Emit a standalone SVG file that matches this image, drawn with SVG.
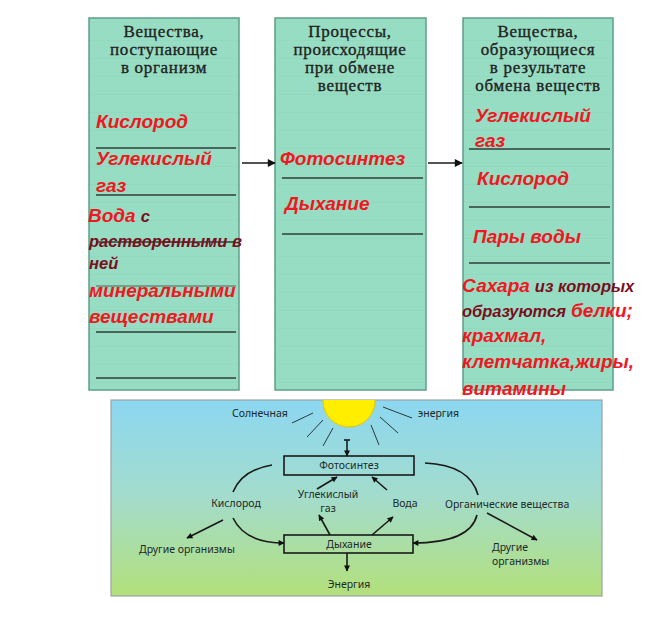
<svg xmlns="http://www.w3.org/2000/svg" width="659" height="628" viewBox="0 0 659 628">
<defs>
<style>
.col{fill:#97ddc3;stroke:#5e9e89;stroke-width:1.5}
.hd{font-family:"Liberation Serif",serif;font-size:17px;letter-spacing:0.7px;fill:#222;text-anchor:middle;stroke:#222;stroke-width:0.35}
.red{font-family:"Liberation Sans",Arial,sans-serif;font-style:italic;font-weight:bold;font-size:19px;fill:#ee1822}
.dk{font-family:"Liberation Sans",Arial,sans-serif;font-style:italic;font-weight:bold;font-size:16.5px;fill:#7a0f1e}
.sep{stroke:#2e3e38;stroke-width:1.5}
.rule{stroke:#8bd2b7;stroke-width:0.8}
.bt{font-family:"Noto Sans",sans-serif;font-size:10.5px;fill:#1e2a2a}
.ln{stroke:#1a1a1a;stroke-width:1.6;fill:none}
.ray{stroke:#2a3a3a;stroke-width:1}
.box{fill:none;stroke:#1a1a1a;stroke-width:1.6}
</style>
<marker id="ah" viewBox="0 0 10 10" refX="9" refY="5" markerWidth="10" markerHeight="8" markerUnits="userSpaceOnUse" orient="auto"><path d="M0,0 L10,5 L0,10 z" fill="#111"/></marker>
<marker id="sa" viewBox="0 0 10 10" refX="9" refY="5" markerWidth="7" markerHeight="6" markerUnits="userSpaceOnUse" orient="auto"><path d="M0,0 L10,5 L0,10 z" fill="#111"/></marker>
<pattern id="rl" x="0" y="4" width="10" height="18" patternUnits="userSpaceOnUse"><line x1="0" y1="0" x2="10" y2="0" class="rule"/></pattern>
<linearGradient id="sky" x1="0" y1="0" x2="0" y2="1"><stop offset="0" stop-color="#8cd7f1"/><stop offset="0.5" stop-color="#a3dccb"/><stop offset="1" stop-color="#b3e07a"/></linearGradient>
<clipPath id="cp"><rect x="111" y="400" width="491" height="196"/></clipPath>
</defs>
<rect width="659" height="628" fill="#ffffff"/>

<g id="col-input">
<rect class="col" x="89" y="18" width="150" height="372"/>
<rect x="90" y="19" width="148" height="370" fill="url(#rl)"/>
<text class="hd" x="164" y="37">Вещества,</text>
<text class="hd" x="164" y="55">поступающие</text>
<text class="hd" x="164" y="73">в организм</text>
<text class="red" x="96" y="128">Кислород</text>
<line class="sep" x1="96" y1="148" x2="236" y2="148"/>
<text class="red" x="96" y="165">Углекислый</text>
<text class="red" x="96" y="192">газ</text>
<line class="sep" x1="96" y1="195" x2="236" y2="195"/>
<text x="88" y="222"><tspan class="red">Вода</tspan><tspan class="dk" dx="5" font-size="18px">с</tspan></text>
<line class="sep" x1="96" y1="242" x2="236" y2="242"/>
<text class="dk" x="89" y="247">растворенными в</text>
<text class="dk" x="89" y="269" font-size="18px">ней</text>
<line class="sep" x1="96" y1="286" x2="236" y2="286" stroke-opacity="0.5"/>
<text class="red" x="89" y="297">минеральными</text>
<text class="red" x="89" y="323">веществами</text>
<line class="sep" x1="96" y1="332" x2="236" y2="332"/>
<line class="sep" x1="96" y1="378" x2="236" y2="378"/>
</g>

<g id="col-process">
<rect class="col" x="275" y="18" width="151" height="372"/>
<rect x="276" y="19" width="149" height="370" fill="url(#rl)"/>
<text class="hd" x="350" y="37">Процессы,</text>
<text class="hd" x="350" y="55">происходящие</text>
<text class="hd" x="350" y="73">при обмене</text>
<text class="hd" x="350" y="91">веществ</text>
<text class="red" x="280" y="165">Фотосинтез</text>
<line class="sep" x1="282" y1="178" x2="423" y2="178"/>
<text class="red" x="285" y="210">Дыхание</text>
<line class="sep" x1="282" y1="234" x2="423" y2="234"/>
</g>

<g id="col-output">
<rect class="col" x="463" y="18" width="150" height="372"/>
<rect x="464" y="19" width="148" height="370" fill="url(#rl)"/>
<text class="hd" x="538" y="37">Вещества,</text>
<text class="hd" x="538" y="55">образующиеся</text>
<text class="hd" x="538" y="73">в результате</text>
<text class="hd" x="538" y="91">обмена веществ</text>
<text class="red" x="475" y="122">Углекислый</text>
<text class="red" x="475" y="147">газ</text>
<line class="sep" x1="469" y1="149" x2="610" y2="149"/>
<text class="red" x="477" y="185">Кислород</text>
<line class="sep" x1="469" y1="207" x2="610" y2="207"/>
<text class="red" x="473" y="243">Пары воды</text>
<line class="sep" x1="469" y1="263" x2="610" y2="263"/>
<text x="462" y="292"><tspan class="red">Сахара</tspan><tspan class="dk" dx="5">из которых</tspan></text>
<text x="462" y="317"><tspan class="dk">образуются</tspan><tspan class="red" dx="5">белки;</tspan></text>
<text class="red" x="462" y="342">крахмал,</text>
<text class="red" x="462" y="368">клетчатка,жиры,</text>
<text class="red" x="462" y="395">витамины</text>
</g>

<g id="connectors-top">
<line class="ln" x1="242" y1="163" x2="275" y2="163" marker-end="url(#ah)"/>
<line class="ln" x1="428" y1="163" x2="462" y2="163" marker-end="url(#ah)"/>
</g>

<g id="cycle-diagram">
<rect x="111" y="400" width="491" height="196" fill="url(#sky)" stroke="#9aa4a4" stroke-width="1.2"/>
<g id="sun">
<circle cx="349" cy="401" r="26" fill="#ffee00" stroke="#e8c400" stroke-width="1" clip-path="url(#cp)"/>
<line class="ray" x1="292" y1="423" x2="313" y2="413"/>
<line class="ray" x1="307" y1="437" x2="323" y2="420"/>
<line class="ray" x1="323" y1="446" x2="333" y2="428"/>
<line class="ray" x1="383" y1="407" x2="412" y2="418"/>
<line class="ray" x1="380" y1="417" x2="398" y2="433"/>
<line class="ray" x1="371" y1="425" x2="379" y2="445"/>
<text class="bt" x="232" y="417">Солнечная</text>
<text class="bt" x="418" y="417">энергия</text>
</g>
<g id="photosynthesis">
<rect class="box" x="284" y="456" width="130" height="19"/>
<text class="bt" x="349" y="469" text-anchor="middle" font-size="11px">Фотосинтез</text>
</g>
<g id="respiration">
<rect class="box" x="284" y="535" width="129" height="18"/>
<text class="bt" x="349" y="548" text-anchor="middle" font-size="11px">Дыхание</text>
</g>
<g id="lbl-co2"><text class="bt" x="328" y="498" text-anchor="middle">Углекислый</text><text class="bt" x="328" y="512" text-anchor="middle">газ</text></g>
<g id="lbl-water"><text class="bt" x="405" y="507" text-anchor="middle">Вода</text></g>
<g id="lbl-oxygen"><text class="bt" x="236" y="507" text-anchor="middle">Кислород</text></g>
<g id="lbl-organic"><text class="bt" x="445" y="508">Органические вещества</text></g>
<g id="lbl-others-left"><text class="bt" x="139" y="553">Другие организмы</text></g>
<g id="lbl-others-right"><text class="bt" x="492" y="551">Другие</text><text class="bt" x="492" y="565">организмы</text></g>
<g id="lbl-energy"><text class="bt" x="349" y="588" text-anchor="middle">Энергия</text></g>
<g id="connectors-cycle">
<line class="ln" x1="344" y1="440" x2="350" y2="440" stroke-width="1.2"/>
<line class="ln" x1="347" y1="440" x2="347" y2="456" marker-end="url(#sa)"/>
<line class="ln" x1="317" y1="489" x2="337" y2="477" marker-end="url(#sa)"/>
<line class="ln" x1="387" y1="490" x2="372" y2="477" marker-end="url(#sa)"/>
<line class="ln" x1="330" y1="535" x2="319" y2="515" marker-end="url(#sa)"/>
<line class="ln" x1="372" y1="535" x2="393" y2="517" marker-end="url(#sa)"/>
<line class="ln" x1="347" y1="553" x2="347" y2="571" marker-end="url(#sa)"/>
<path class="ln" d="M272,465 Q242,470 233,492"/>
<path class="ln" d="M425,463 Q470,465 478,495"/>
<path class="ln" d="M233,518 Q245,543 284,543" marker-end="url(#sa)"/>
<path class="ln" d="M477,515 Q470,543 413,543" marker-end="url(#sa)"/>
<line class="ln" x1="223" y1="520" x2="187" y2="538" marker-end="url(#sa)"/>
<line class="ln" x1="487" y1="513" x2="537" y2="540" marker-end="url(#sa)"/>
</g>
</g>
</svg>
